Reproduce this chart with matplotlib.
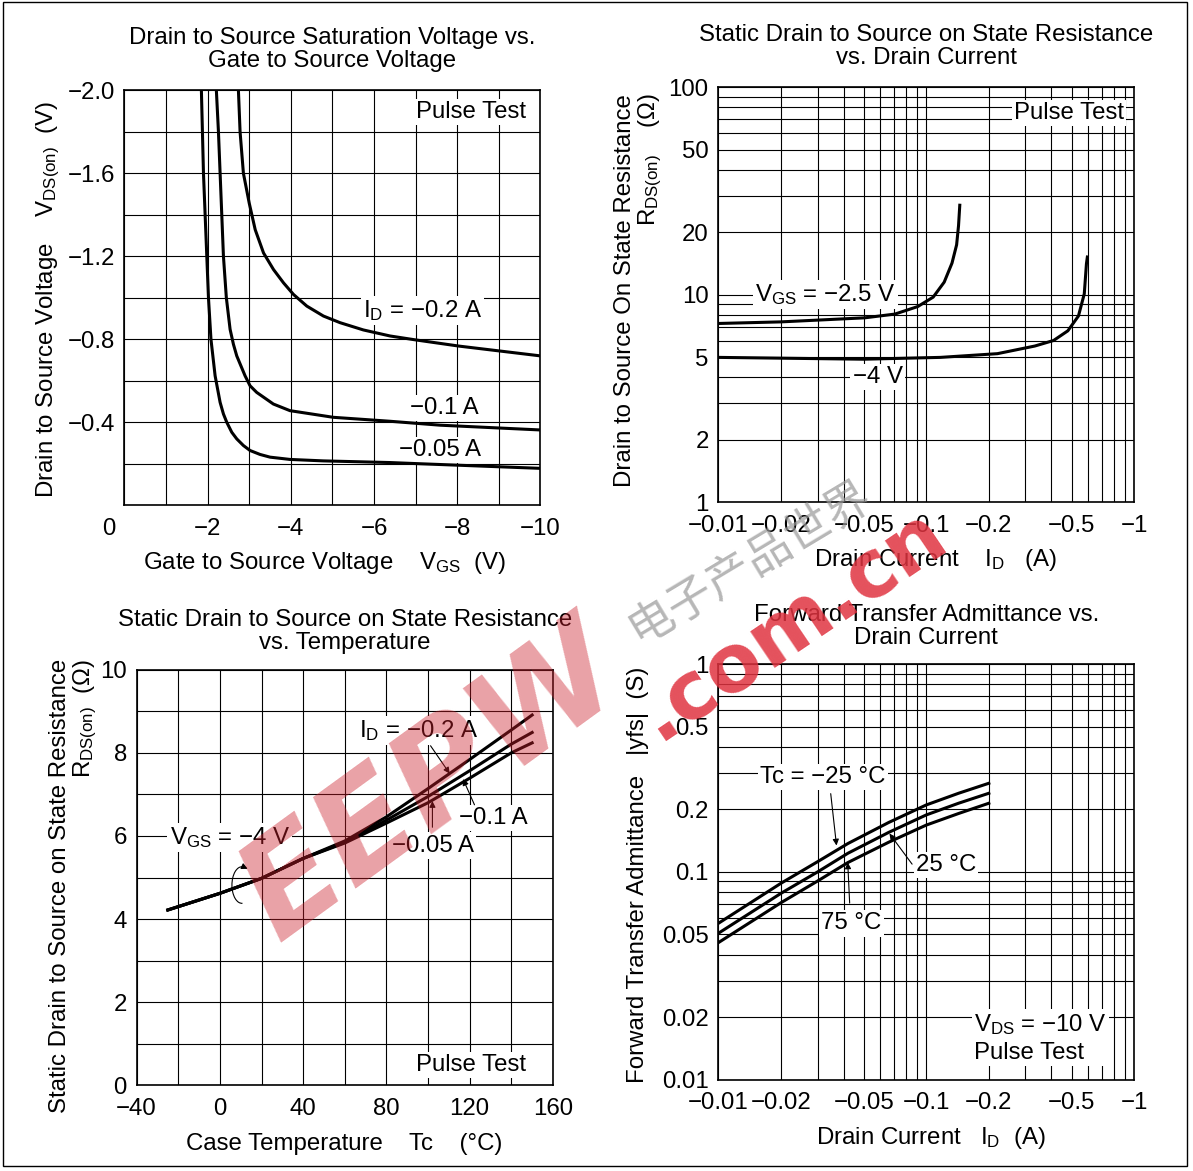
import matplotlib
matplotlib.use('Agg')
import matplotlib.pyplot as plt
from matplotlib.patches import Rectangle, Arc
from matplotlib.ticker import MultipleLocator, LogLocator, NullFormatter

# plot settings
plt.rcParams['font.family'] = ['Liberation Sans', 'DejaVu Sans']
plt.rcParams['mathtext.fontset'] = 'custom'
plt.rcParams['mathtext.rm'] = 'Liberation Sans'
plt.rcParams['mathtext.default'] = 'regular'
plt.rcParams['font.size'] = 17.3
plt.rcParams['axes.linewidth'] = 1.2
fs = 17.3
M = '\u2212'

# ---- data: VDS(on) vs VGS (top left) ----
vgs_005 = [-1.85, -1.90, -1.94, -1.98, -2.02, -2.08, -2.18, -2.30, -2.38, -2.46, -2.58, -2.70, -2.86, -3.02,
           -3.26, -3.50, -3.98, -4.78, -6.38, -7.13, -10.0]
vds_005 = [-2.0, -1.6, -1.4, -1.2, -1.0, -0.8, -0.624, -0.496, -0.44, -0.40, -0.352, -0.32, -0.288, -0.264,
           -0.245, -0.232, -0.221, -0.214, -0.206, -0.200, -0.178]
vgs_01 = [-2.21, -2.26, -2.30, -2.34, -2.38, -2.45, -2.54, -2.62, -2.70, -2.90, -3.02, -3.18, -3.58, -3.98,
          -5.02, -6.38, -7.59, -10.0]
vds_01 = [-2.0, -1.8, -1.6, -1.4, -1.2, -1.0, -0.848, -0.776, -0.72, -0.624, -0.576, -0.544, -0.488, -0.456,
          -0.424, -0.405, -0.386, -0.363]
vgs_02 = [-2.74, -2.78, -2.86, -3.0, -3.144, -3.344, -3.584, -3.824, -4.064, -4.384, -4.784, -5.184,
          -5.744, -6.384, -7.0, -8.05, -10.0]
vds_02 = [-2.0, -1.8, -1.6, -1.456, -1.328, -1.216, -1.136, -1.072, -1.016, -0.96, -0.912, -0.88,
          -0.845, -0.816, -0.797, -0.767, -0.72]

# ---- data: RDS(on) vs ID (top right), magnitudes ----
id_25 = [0.01, 0.02, 0.0506, 0.0707, 0.091, 0.108, 0.122, 0.133, 0.140, 0.143, 0.145]
rds_25 = [7.27, 7.4, 7.74, 8.07, 8.77, 9.74, 11.5, 14.2, 17.4, 21.5, 27.0]
id_4 = [0.01, 0.05, 0.117, 0.22, 0.333, 0.41, 0.48, 0.54, 0.576, 0.59, 0.596]
rds_4 = [4.99, 4.89, 4.99, 5.2, 5.66, 6.02, 6.7, 7.9, 10.1, 14.1, 15.2]

# ---- data: RDS(on) vs Tc (bottom left) ----
tc = [-25, 0, 20, 40, 60, 80, 100, 120, 140, 150]
r_02 = [4.22, 4.62, 4.98, 5.46, 5.88, 6.46, 7.14, 7.84, 8.55, 8.91]
r_01 = [4.22, 4.62, 4.98, 5.46, 5.85, 6.38, 6.95, 7.57, 8.21, 8.49]
r_005 = [4.22, 4.62, 4.98, 5.46, 5.83, 6.31, 6.80, 7.39, 8.00, 8.24]

# ---- data: |yfs| vs ID (bottom right) ----
id_yfs = [0.01, 0.02, 0.03, 0.042, 0.066, 0.1, 0.143, 0.2]
yfs_m25 = [0.0566, 0.0882, 0.112, 0.137, 0.173, 0.210, 0.239, 0.267]
yfs_25 = [0.0507, 0.0789, 0.100, 0.123, 0.155, 0.188, 0.214, 0.239]
yfs_75 = [0.0457, 0.0711, 0.0904, 0.111, 0.139, 0.168, 0.191, 0.214]

# tick labels
tl_xticks = [-2, -4, -6, -8, -10]
tl_xlabels = [M + '2', M + '4', M + '6', M + '8', M + '10']
tl_yticks = [-2.0, -1.6, -1.2, -0.8, -0.4]
tl_ylabels = [M + '2.0', M + '1.6', M + '1.2', M + '0.8', M + '0.4']
id_ticks = [0.01, 0.02, 0.05, 0.1, 0.2, 0.5, 1]
id_labels = [M + '0.01', M + '0.02', M + '0.05', M + '0.1', M + '0.2', M + '0.5', M + '1']
r_ticks = [1, 2, 5, 10, 20, 50, 100]
r_labels = ['1', '2', '5', '10', '20', '50', '100']
tc_ticks = [-40, 0, 40, 80, 120, 160]
tc_labels = [M + '40', '0', '40', '80', '120', '160']
rt_ticks = [0, 2, 4, 6, 8, 10]
y_ticks = [0.01, 0.02, 0.05, 0.1, 0.2, 0.5, 1]
y_labels = ['0.01', '0.02', '0.05', '0.1', '0.2', '0.5', '1']

fig = plt.figure(figsize=(11.93, 11.71), dpi=100)
ax1 = fig.add_axes([0.1043, 0.5685, 0.3487, 0.3544])
ax2 = fig.add_axes([0.6022, 0.5711, 0.3484, 0.3544])
ax3 = fig.add_axes([0.1145, 0.0731, 0.3490, 0.3550])
ax4 = fig.add_axes([0.6022, 0.0779, 0.3484, 0.3550])

box = dict(facecolor='white', edgecolor='none', pad=1.5)
arr = dict(arrowstyle='-|>', lw=0.8, color='black', mutation_scale=9, shrinkA=0, shrinkB=0)


def style(ax):
    ax.set_axisbelow(True)
    ax.grid(True, which='both', color='black', lw=0.8)
    ax.tick_params(which='both', length=0)
    ax.tick_params(axis='x', pad=9)
    ax.tick_params(axis='y', pad=7)


def title(ax, txt, y):
    ax.text(0.5, y, txt, transform=ax.transAxes, ha='center', va='center',
            linespacing=1.05, fontsize=fs)


def label(ax, x, y, txt, ha='center', **kw):
    # boxed label: sits above the grid but below the curves
    ax.text(x, y, txt, transform=ax.transAxes, ha=ha, va='center', bbox=box, zorder=1.5, **kw)


# ---------- top left ----------
ax1.plot(vgs_005, vds_005, color='black', lw=2.2)
ax1.plot(vgs_01, vds_01, color='black', lw=2.2)
ax1.plot(vgs_02, vds_02, color='black', lw=2.2)
ax1.set_xlim(0, -10)
ax1.set_ylim(0, -2)
ax1.set_xticks(tl_xticks, tl_xlabels)
ax1.set_yticks(tl_yticks, tl_ylabels)
ax1.xaxis.set_minor_locator(MultipleLocator(1))
ax1.yaxis.set_minor_locator(MultipleLocator(0.2))
style(ax1)
ax1.text(-0.037, -0.056, '0', transform=ax1.transAxes, ha='center', va='center')
title(ax1, 'Drain to Source Saturation Voltage vs.\nGate to Source Voltage', 1.098)
ax1.text(0.482, -0.138, 'Gate to Source Voltage    V$_{GS}$  (V)', transform=ax1.transAxes,
         ha='center', va='center')
ax1.text(-0.184, 0.497, 'Drain to Source Voltage    V$_{DS(on)}$  (V)', transform=ax1.transAxes,
         ha='center', va='center', rotation=90)
label(ax1, 0.966, 0.947, 'Pulse Test', ha='right')
label(ax1, 0.860, 0.470, 'I$_{D}$ = ' + M + '0.2 A', ha='right')
label(ax1, 0.851, 0.234, M + '0.1 A', ha='right')
label(ax1, 0.856, 0.134, M + '0.05 A', ha='right')

# ---------- top right ----------
ax2.plot(id_25, rds_25, color='black', lw=2.2)
ax2.plot(id_4, rds_4, color='black', lw=2.2)
ax2.set_xscale('log')
ax2.set_yscale('log')
ax2.set_xlim(0.01, 1)
ax2.set_ylim(1, 100)
ax2.set_xticks(id_ticks, id_labels)
ax2.set_yticks(r_ticks, r_labels)
for a in (ax2.xaxis, ax2.yaxis):
    a.set_minor_locator(LogLocator(subs=range(2, 10)))
    a.set_minor_formatter(NullFormatter())
style(ax2)
title(ax2, 'Static Drain to Source on State Resistance\nvs. Drain Current', 1.098)
ax2.text(0.522, -0.140, 'Drain Current    I$_{D}$   (A)', transform=ax2.transAxes,
         ha='center', va='center')
ax2.text(-0.1915, 0.984, 'Drain to Source On State Resistance\nR$_{DS(on)}$    ($\\Omega$)',
         transform=ax2.transAxes, ha='center', va='top', rotation=90,
         multialignment='right', linespacing=1.05)
label(ax2, 0.975, 0.938, 'Pulse Test', ha='right')
label(ax2, 0.257, 0.50, 'V$_{GS}$ = ' + M + '2.5 V')
label(ax2, 0.383, 0.302, M + '4 V')

# ---------- bottom left ----------
ax3.plot(tc, r_02, color='black', lw=2.2)
ax3.plot(tc, r_01, color='black', lw=2.2)
ax3.plot(tc, r_005, color='black', lw=2.2)
ax3.set_xlim(-40, 160)
ax3.set_ylim(0, 10)
ax3.set_xticks(tc_ticks, tc_labels)
ax3.set_yticks(rt_ticks)
ax3.xaxis.set_minor_locator(MultipleLocator(20))
ax3.yaxis.set_minor_locator(MultipleLocator(1))
style(ax3)
title(ax3, 'Static Drain to Source on State Resistance\nvs. Temperature', 1.091)
ax3.text(0.499, -0.142, 'Case Temperature    Tc    (\u00b0C)', transform=ax3.transAxes,
         ha='center', va='center')
ax3.text(-0.151, 1.027, 'Static Drain to Source on State Resistance\nR$_{DS(on)}$  ($\\Omega$)',
         transform=ax3.transAxes, ha='center', va='top', rotation=90,
         multialignment='right', linespacing=1.05)
label(ax3, 0.936, 0.049, 'Pulse Test', ha='right')
label(ax3, 0.676, 0.853, 'I$_{D}$ = ' + M + '0.2 A')
label(ax3, 0.857, 0.643, M + '0.1 A')
label(ax3, 0.711, 0.577, M + '0.05 A')
label(ax3, 0.224, 0.596, 'V$_{GS}$ = ' + M + '4 V')
ax3.annotate('', xy=(110.4, 7.50), xytext=(101.2, 8.17), arrowprops=arr)
ax3.annotate('', xy=(116.8, 7.37), xytext=(122.3, 6.75), arrowprops=arr)
ax3.annotate('', xy=(102.1, 6.84), xytext=(102.1, 6.21), arrowprops=arr)
# loop symbol: applies to all curves
ax3.add_patch(Arc((10.6, 4.82), 9.6, 0.88, theta1=60, theta2=300, color='black', lw=0.8))
ax3.annotate('', xy=(13.4, 5.21), xytext=(11.9, 5.245), arrowprops=arr)

# ---------- bottom right ----------
ax4.plot(id_yfs, yfs_m25, color='black', lw=2.2)
ax4.plot(id_yfs, yfs_25, color='black', lw=2.2)
ax4.plot(id_yfs, yfs_75, color='black', lw=2.2)
ax4.set_xscale('log')
ax4.set_yscale('log')
ax4.set_xlim(0.01, 1)
ax4.set_ylim(0.01, 1)
ax4.set_xticks(id_ticks, id_labels)
ax4.set_yticks(y_ticks, y_labels)
for a in (ax4.xaxis, ax4.yaxis):
    a.set_minor_locator(LogLocator(subs=range(2, 10)))
    a.set_minor_formatter(NullFormatter())
style(ax4)
title(ax4, 'Forward Transfer Admittance vs.\nDrain Current', 1.091)
ax4.text(0.511, -0.140, 'Drain Current   I$_{D}$  (A)', transform=ax4.transAxes,
         ha='center', va='center')
ax4.text(-0.194, 0.493, 'Forward Transfer Admittance   |yfs|  (S)', transform=ax4.transAxes,
         ha='center', va='center', rotation=90)
label(ax4, 0.252, 0.728, 'Tc = ' + M + '25 \u00b0C')
label(ax4, 0.548, 0.517, '25 \u00b0C')
label(ax4, 0.320, 0.376, '75 \u00b0C')
label(ax4, 0.616, 0.10, 'V$_{DS}$ = ' + M + '10 V\nPulse Test', ha='left', linespacing=1.3)
ax4.annotate('', xy=(0.0370, 0.134), xytext=(0.0347, 0.238), arrowprops=arr)
ax4.annotate('', xy=(0.0665, 0.153), xytext=(0.0855, 0.109), arrowprops=arr)
ax4.annotate('', xy=(0.0419, 0.111), xytext=(0.0428, 0.0708), arrowprops=arr)

# page frame
fig.patches.append(Rectangle((0.0025, 0.0043), 0.9925, 0.9937, transform=fig.transFigure,
                             fill=False, edgecolor='black', lw=1.0))

# site watermark
fig.text(0.362, 0.330, 'EEPW', rotation=36, fontsize=98, fontweight='bold', fontstyle='oblique',
         family=['DejaVu Sans'], color=(0.80, 0.12, 0.17), alpha=0.42,
         ha='center', va='center', zorder=10)
fig.text(0.664, 0.467, '.com.cn', rotation=34, fontsize=58, fontweight='bold',
         family=['DejaVu Sans'], color=(0.88, 0.20, 0.25), alpha=0.85,
         ha='center', va='center', zorder=10)
fig.text(0.628, 0.520, '电子产品世界', rotation=31, fontsize=33,
         family=['Noto Sans CJK SC'], color='0.6', alpha=0.7,
         ha='center', va='center', zorder=10)

fig.savefig('out.png', dpi=100)
